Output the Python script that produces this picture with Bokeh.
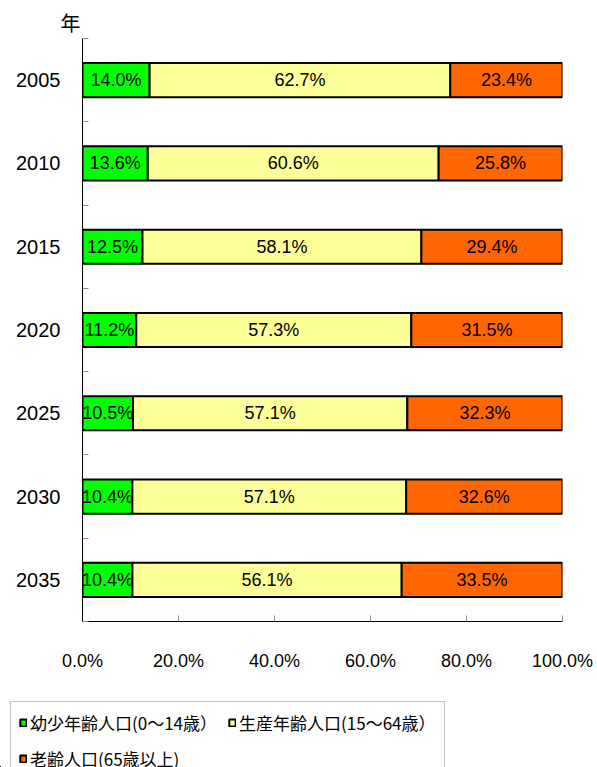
from bokeh.plotting import figure
from bokeh.layouts import column
from bokeh.models import ColumnDataSource, FixedTicker, NumeralTickFormatter, Range1d, Legend
from bokeh.core.properties import value
from bokeh.embed import file_html
from bokeh.resources import INLINE

years = ["2005", "2010", "2015", "2020", "2025", "2030", "2035"]
young = [14.0, 13.6, 12.5, 11.2, 10.5, 10.4, 10.4]
working = [62.7, 60.6, 58.1, 57.3, 57.1, 57.1, 56.1]
elderly = [23.4, 25.8, 29.4, 31.5, 32.3, 32.6, 33.5]
series_names = ["幼少年齢人口(0～14歳）", "生産年齢人口(15～64歳）", "老齢人口(65歳以上)"]
colors = ["#00FF00", "#FFFF99", "#FF6600"]
x_ticks = [0.0, 0.2, 0.4, 0.6, 0.8, 1.0]

ypos = [i + 0.5 for i in range(len(years))]
totals = [a + b + c for a, b, c in zip(young, working, elderly)]
fy = [a / t for a, t in zip(young, totals)]
fw = [b / t for b, t in zip(working, totals)]
fe = [c / t for c, t in zip(elderly, totals)]

src = ColumnDataSource(dict(y=ypos, young=fy, working=fw, elderly=fe))

p1 = figure(width=597, height=700, output_backend="svg", toolbar_location=None,
            x_range=Range1d(0, 1), y_range=Range1d(len(years), 0),
            min_border_left=82, min_border_top=38, min_border_right=35, min_border_bottom=79,
            title="年")
p1.frame_align = False
p1.outline_line_color = None
p1.xgrid.grid_line_color = None
p1.ygrid.grid_line_color = None

p1.title.align = "left"
p1.title.offset = -22
p1.title.text_font = "Noto Sans CJK JP"
p1.title.text_font_size = "20px"
p1.title.text_font_style = "normal"
p1.title.text_color = "black"
p1.title.standoff = 4

p1.hbar_stack(["young", "working", "elderly"], y="y", height=0.41, color=colors,
              line_color="black", line_width=2, source=src)

# segment labels
cx, cy, ct = [], [], []
for i in range(len(years)):
    segs = [(fy[i], young[i]), (fw[i], working[i]), (fe[i], elderly[i])]
    left = 0.0
    for f, v in segs:
        cx.append(left + f / 2)
        cy.append(ypos[i])
        ct.append(f"{v:.1f}%")
        left += f
lab_src = ColumnDataSource(dict(x=cx, y=cy, t=ct))
p1.text(x="x", y="y", text="t", source=lab_src, text_align="center", text_baseline="middle",
        text_font=value("Liberation Sans"), text_font_size="18px", text_color="black")

# x axis
p1.xaxis.ticker = FixedTicker(ticks=x_ticks)
p1.xaxis.formatter = NumeralTickFormatter(format="0.0%")
p1.xaxis.axis_line_color = "black"
p1.xaxis.major_tick_in = 6
p1.xaxis.major_tick_out = 0
p1.xaxis.major_tick_line_color = "#888888"
p1.xaxis.minor_tick_line_color = None
p1.xaxis.major_label_standoff = 29
p1.xaxis.major_label_text_font = "Liberation Sans"
p1.xaxis.major_label_text_font_size = "18px"
p1.xaxis.major_label_text_color = "black"

# y axis
p1.yaxis.ticker = FixedTicker(ticks=ypos, minor_ticks=list(range(len(years) + 1)))
p1.yaxis.major_label_overrides = {y: s for y, s in zip(ypos, years)}
p1.yaxis.axis_line_color = "black"
p1.yaxis.major_tick_line_color = None
p1.yaxis.major_tick_in = 0
p1.yaxis.major_tick_out = 0
p1.yaxis.minor_tick_in = 6
p1.yaxis.minor_tick_out = 0
p1.yaxis.minor_tick_line_color = "#888888"
p1.yaxis.major_label_standoff = 22
p1.yaxis.major_label_text_font = "Liberation Sans"
p1.yaxis.major_label_text_font_size = "20px"
p1.yaxis.major_label_text_color = "black"

# legend figure (its bars fall far outside its ranges; only the legend is visible)
p2 = figure(width=597, height=67, output_backend="svg", toolbar_location=None,
            x_range=Range1d(50, 51), y_range=Range1d(100, 101),
            x_axis_location=None, y_axis_location=None,
            min_border_left=0, min_border_right=0, min_border_top=0, min_border_bottom=0)
p2.frame_align = False
p2.outline_line_color = None
p2.grid.visible = False
rs = p2.hbar_stack(["young", "working", "elderly"], y="y", height=0.41, color=colors,
                   line_color="black", line_width=2, source=src)

order = [0, 2, 1]
lg = Legend(items=[(series_names[i], [rs[i]]) for i in order], location=(10, -13))
lg.ncols = 2
lg.margin = 0
lg.label_text_font = "Noto Sans CJK JP"
lg.label_text_font_size = "17px"
lg.label_text_color = "black"
lg.glyph_width = 8
lg.glyph_height = 9
lg.label_standoff = 3
lg.label_height = 20
lg.spacing = 11
lg.padding = 8
lg.border_line_color = "#888888"
lg.border_line_width = 1
lg.background_fill_alpha = 1
p2.add_layout(lg, "center")

layout = column(p1, p2, spacing=0)
open("out.html", "w").write(file_html(layout, INLINE))
